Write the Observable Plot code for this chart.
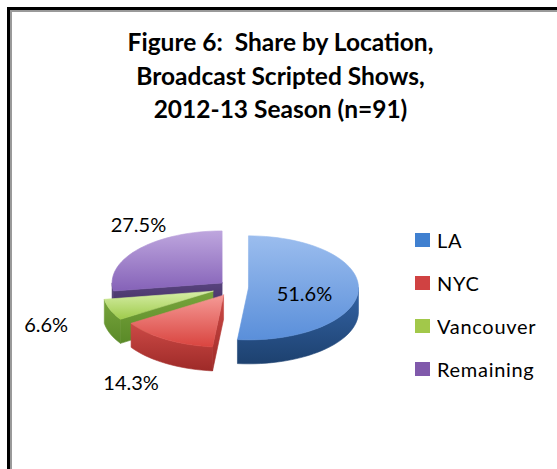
<!DOCTYPE html>
<html>
<head>
<meta charset="utf-8">
<script src="https://cdn.jsdelivr.net/npm/d3@7"></script>
<script src="https://cdn.jsdelivr.net/npm/@observablehq/plot@0.6"></script>
<style>
  html, body { margin: 0; padding: 0; background: #fff; }
  #page { position: relative; width: 557px; height: 469px; overflow: hidden; background: #fff; }
  #frame { position: absolute; left: 7px; top: 7px; width: 620px; height: 520px;
           border-left: 3px solid #000; border-top: 3px solid #000;
           box-shadow: inset 2px 2px 0 #9a9a9a; }
  #chart { position: absolute; left: 0; top: 0; }
  #chart svg text { white-space: pre; }
  #chart svg g[aria-label="title"] text { letter-spacing: 1.1px; }
  #chart svg g[aria-label="pct"] text { letter-spacing: 0.5px; }
  #legend { position: absolute; left: 415px; top: 218px; }
  .lg-swatches-columns .lg-swatch { height: 43px; padding-bottom: 0 !important; margin: 0 !important; display: flex; align-items: center; letter-spacing: 0.7px; }
  .lg-swatch svg { margin-right: 7px !important; }
</style>
</head>
<body>
<div id="page">
  <div id="frame"></div>
  <div id="chart"></div>
  <div id="legend"></div>
</div>
<script>
// ---- data ----
const locations = ["LA", "NYC", "Vancouver", "Remaining"];
const shares = [51.6, 14.3, 6.6, 27.5];
const titleLines = ["Figure 6:  Share by Location,", "Broadcast Scripted Shows,", "2012-13 Season (n=91)"];

// ---- styles ----
const legendColors = ["#4080d0", "#d04242", "#a2c84a", "#8059ab"];
const topGrad  = [["#9bbdee", "#5a8fda"], ["#f59a96", "#d9443f"], ["#d6eea6", "#9fcb4c"], ["#bea6de", "#8562b8"]];
const sideGrad = [["#3464a6", "#1d416f"], ["#cc4a46", "#9e2a28"], ["#78a43c", "#5a8a28"], ["#58437e", "#3e2c5c"]];
const explode = [15, 19, 22, 15];   // px explosion per slice
const labelOffset = [[1, 5], [-35, 44], [-64, 16], [0, -24]];
const PX = 110;                      // radius in px
const TILT = 52 / 110, DEPTH = 24 / PX;
const CX = 233, CY = 287;            // pie centre in px

// ---- geometry (unit radius, y up) ----
const arcs = d3.pie().sort(null).value(d => d)(shares);
const N = 60;
function pt(c, a, r = 1, dz = 0) { return {x: c.x + r * Math.sin(a), y: c.y + r * Math.cos(a) * TILT - dz}; }
function arcPts(c, a0, a1, dz = 0) {
  const n = Math.max(2, Math.ceil(N * (a1 - a0) / Math.PI));
  return d3.range(n + 1).map(k => pt(c, a0 + (a1 - a0) * k / n, 1, dz));
}
const slices = arcs.map((a, i) => {
  const m = (a.startAngle + a.endAngle) / 2;
  const e = explode[i] / PX;
  const c = {x: e * Math.sin(m), y: e * Math.cos(m) * TILT};
  return {i, a0: a.startAngle, a1: a.endAngle, m, c};
});

const sidePolys = [], topPolys = [];
for (const s of slices) {
  const {c, a0, a1, i} = s;
  const w0 = Math.max(a0, Math.PI / 2), w1 = Math.min(a1, 3 * Math.PI / 2);
  if (w1 > w0) {
    const top = arcPts(c, w0, w1), bot = arcPts(c, w0, w1, DEPTH).reverse();
    sidePolys.push({i, depth: -Math.cos(s.m), pts: [...top, ...bot, top[0]]});
  }
  const cb = {x: c.x, y: c.y - DEPTH};
  if (Math.sin(a0) < -1e-6) {
    sidePolys.push({i, depth: -Math.cos(s.m), pts: [c, pt(c, a0), pt(c, a0, 1, DEPTH), cb, c]});
  }
  if (Math.sin(a1) > 1e-6) {
    sidePolys.push({i, depth: -Math.cos(s.m), pts: [c, pt(c, a1), pt(c, a1, 1, DEPTH), cb, c]});
  }
  topPolys.push({i, pts: [c, ...arcPts(c, a0, a1), c]});
}
sidePolys.sort((p, q) => p.depth - q.depth);

const labels = slices.map(s => {
  const inside = s.i === 0;
  const p = pt(s.c, s.m, inside ? 0.5 : 1);
  return {x: p.x, y: p.y, text: shares[s.i].toFixed(1) + "%", dx: labelOffset[s.i][0], dy: labelOffset[s.i][1]};
});

const W = 557, H = 469;
const marks = [];
for (const p of sidePolys) marks.push(Plot.line(p.pts, {x: "x", y: "y", curve: "linear", fill: `url(#side-${p.i})`, stroke: `url(#side-${p.i})`, strokeWidth: 0.6}));
for (const p of topPolys) marks.push(Plot.line(p.pts, {x: "x", y: "y", curve: "linear", fill: `url(#top-${p.i})`, stroke: `url(#top-${p.i})`, strokeWidth: 0.6}));
for (const l of labels) marks.push(Plot.text([l], {x: "x", y: "y", text: "text", dx: l.dx, dy: l.dy, fontSize: 20, fill: "#000", ariaLabel: "pct"}));
marks.push(Plot.text([titleLines.join("\n")], {frameAnchor: "top", lineAnchor: "top", dx: 1.5, dy: 27, lineHeight: 33.5 / 24.5, fontSize: 24.5, fontWeight: "bold", fill: "#000", ariaLabel: "title"}));

const chart = Plot.plot({
  width: W, height: H, margin: 0,
  style: {fontFamily: "Lato, 'Open Sans', sans-serif", background: "transparent", overflow: "visible"},
  x: {type: "linear", domain: [-CX / PX, (W - CX) / PX], range: [0, W], axis: null},
  y: {type: "linear", domain: [(CY - H) / PX, CY / PX], range: [H, 0], axis: null},
  marks
});

const defs = d3.select(chart).insert("defs", ":first-child");
function grad(id, stops) {
  const g = defs.append("linearGradient").attr("id", id).attr("x1", 0).attr("y1", 0).attr("x2", 0).attr("y2", 1);
  g.append("stop").attr("offset", "0%").attr("stop-color", stops[0]);
  g.append("stop").attr("offset", "100%").attr("stop-color", stops[1]);
}
topGrad.forEach((s, i) => grad(`top-${i}`, s));
sideGrad.forEach((s, i) => grad(`side-${i}`, s));
document.getElementById("chart").appendChild(chart);

const legend = Plot.legend({
  color: {domain: locations, range: legendColors, type: "ordinal"},
  legend: "swatches", columns: 1, swatchWidth: 15, swatchHeight: 14,
  className: "lg",
  style: {fontFamily: "Lato, 'Open Sans', sans-serif", fontSize: "20px", color: "#000"}
});
document.getElementById("legend").appendChild(legend);
</script>
</body>
</html>
